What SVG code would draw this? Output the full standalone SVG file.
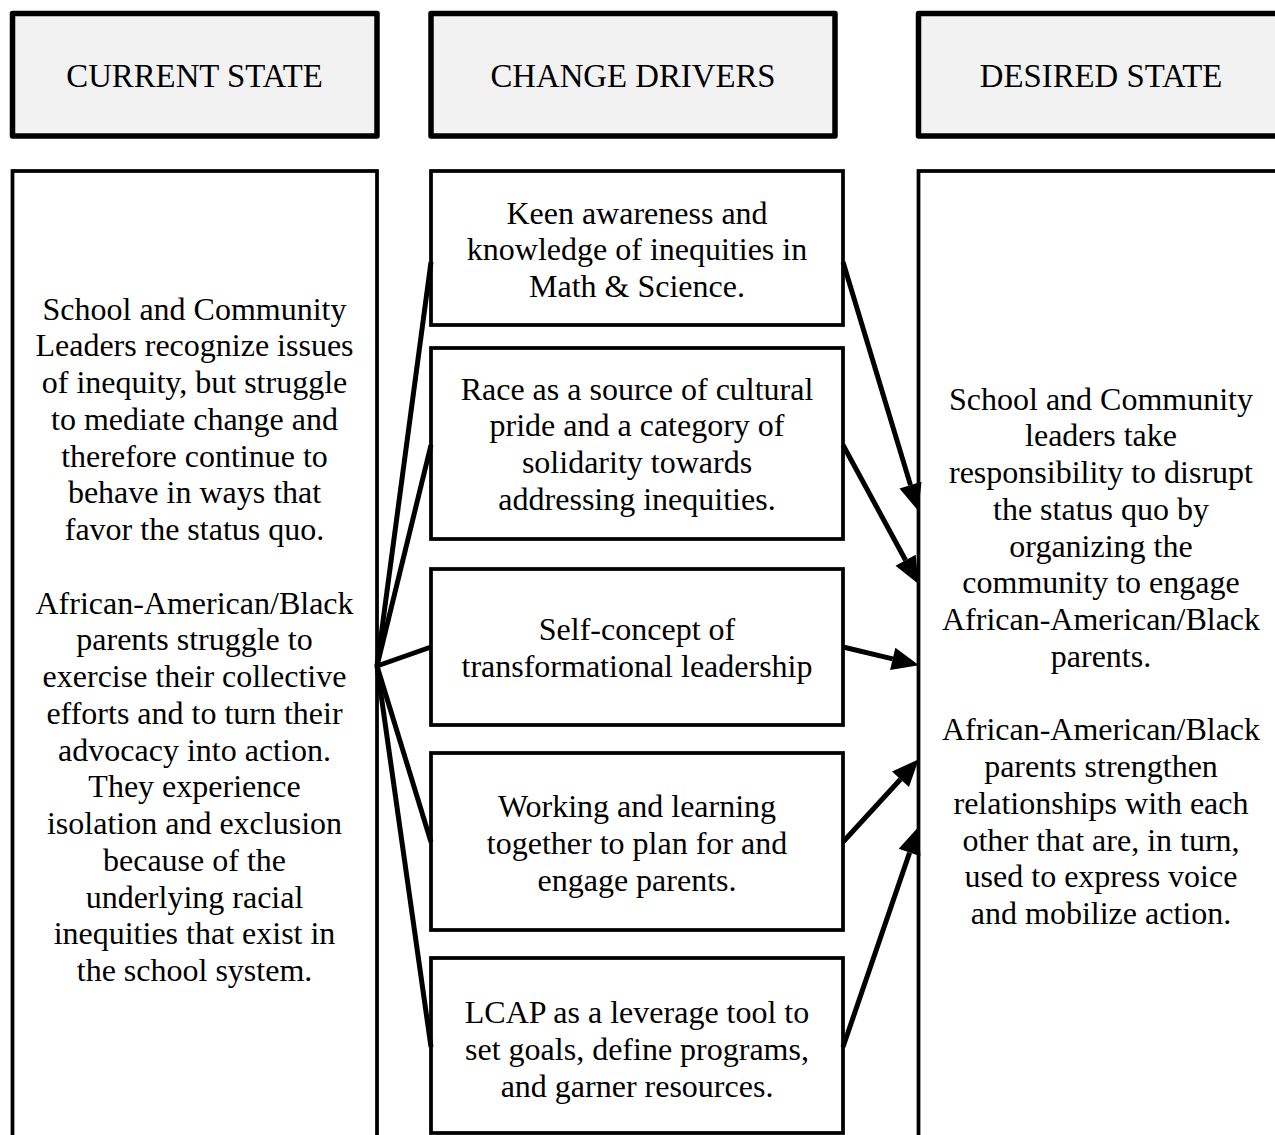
<svg xmlns="http://www.w3.org/2000/svg" width="1275" height="1135" viewBox="0 0 1275 1135">
<style>
  .hdr { fill: #f2f2f2; stroke: #000; stroke-width: 5.5; stroke-linejoin: round; }
  .box { fill: #fff; stroke: #000; stroke-width: 3.75; }
  .t { font-family: 'Liberation Serif', 'Times New Roman', serif; font-size: 32px; fill: #000; text-anchor: middle; }
  .h { font-size: 32.8px; }
  .c { stroke: #000; stroke-width: 5; fill: none; }
</style>
<defs>
  <marker id="ah" markerUnits="userSpaceOnUse" markerWidth="28" markerHeight="24" refX="0" refY="11.5" orient="auto" overflow="visible">
    <path d="M0,0 L27,11.5 L0,23 z" fill="#000"/>
  </marker>
</defs>
<rect width="1275" height="1135" fill="#fff"/>

<g id="hdr-current">
  <rect class="hdr" x="12.5" y="13.5" width="364.5" height="122.5"/>
  <text class="t h" x="194.5" y="87">CURRENT STATE</text>
</g>
<g id="hdr-drivers">
  <rect class="hdr" x="431" y="13.5" width="404" height="122.5"/>
  <text class="t h" x="633" y="87">CHANGE DRIVERS</text>
</g>
<g id="hdr-desired">
  <rect class="hdr" x="918.5" y="13.5" width="366" height="122.5"/>
  <text class="t h" x="1101" y="87">DESIRED STATE</text>
</g>

<g id="current">
  <rect class="box" x="12.5" y="171" width="364.5" height="980"/>
  <text class="t" x="194.5" y="319.5">School and Community</text>
  <text class="t" x="194.5" y="356.25">Leaders recognize issues</text>
  <text class="t" x="194.5" y="393">of inequity, but struggle</text>
  <text class="t" x="194.5" y="429.75">to mediate change and</text>
  <text class="t" x="194.5" y="466.5">therefore continue to</text>
  <text class="t" x="194.5" y="503.25">behave in ways that</text>
  <text class="t" x="194.5" y="540">favor the status quo.</text>
  <text class="t" x="194.5" y="613.5">African-American/Black</text>
  <text class="t" x="194.5" y="650.25">parents struggle to</text>
  <text class="t" x="194.5" y="687">exercise their collective</text>
  <text class="t" x="194.5" y="723.75">efforts and to turn their</text>
  <text class="t" x="194.5" y="760.5">advocacy into action.</text>
  <text class="t" x="194.5" y="797.25">They experience</text>
  <text class="t" x="194.5" y="834">isolation and exclusion</text>
  <text class="t" x="194.5" y="870.75">because of the</text>
  <text class="t" x="194.5" y="907.5">underlying racial</text>
  <text class="t" x="194.5" y="944.25">inequities that exist in</text>
  <text class="t" x="194.5" y="981">the school system.</text>
</g>

<g id="driver1">
  <rect class="box" x="431" y="171" width="412" height="154"/>
  <text class="t" x="637" y="223.5">Keen awareness and</text>
  <text class="t" x="637" y="260.25">knowledge of inequities in</text>
  <text class="t" x="637" y="297">Math &amp; Science.</text>
</g>
<g id="driver2">
  <rect class="box" x="431" y="348" width="412" height="191"/>
  <text class="t" x="637" y="399.5">Race as a source of cultural</text>
  <text class="t" x="637" y="436.25">pride and a category of</text>
  <text class="t" x="637" y="473">solidarity towards</text>
  <text class="t" x="637" y="509.75">addressing inequities.</text>
</g>
<g id="driver3">
  <rect class="box" x="431" y="569" width="412" height="156"/>
  <text class="t" x="637" y="640">Self-concept of</text>
  <text class="t" x="637" y="676.75">transformational leadership</text>
</g>
<g id="driver4">
  <rect class="box" x="431" y="753" width="412" height="177"/>
  <text class="t" x="637" y="817">Working and learning</text>
  <text class="t" x="637" y="853.75">together to plan for and</text>
  <text class="t" x="637" y="890.5">engage parents.</text>
</g>
<g id="driver5">
  <rect class="box" x="431" y="958" width="412" height="175"/>
  <text class="t" x="637" y="1023">LCAP as a leverage tool to</text>
  <text class="t" x="637" y="1059.75">set goals, define programs,</text>
  <text class="t" x="637" y="1096.5">and garner resources.</text>
</g>

<g id="desired">
  <rect class="box" x="918.5" y="171" width="366" height="980"/>
  <text class="t" x="1101" y="409.5">School and Community</text>
  <text class="t" x="1101" y="446.25">leaders take</text>
  <text class="t" x="1101" y="483">responsibility to disrupt</text>
  <text class="t" x="1101" y="519.75">the status quo by</text>
  <text class="t" x="1101" y="556.5">organizing the</text>
  <text class="t" x="1101" y="593.25">community to engage</text>
  <text class="t" x="1101" y="630">African-American/Black</text>
  <text class="t" x="1101" y="666.75">parents.</text>
  <text class="t" x="1101" y="740.25">African-American/Black</text>
  <text class="t" x="1101" y="777">parents strengthen</text>
  <text class="t" x="1101" y="813.75">relationships with each</text>
  <text class="t" x="1101" y="850.5">other that are, in turn,</text>
  <text class="t" x="1101" y="887.25">used to express voice</text>
  <text class="t" x="1101" y="924">and mobilize action.</text>
</g>

<g id="connectors">
  <line class="c" x1="377" y1="666" x2="431" y2="262"/>
  <line class="c" x1="377" y1="666" x2="431" y2="445"/>
  <line class="c" x1="377" y1="666" x2="431" y2="647"/>
  <line class="c" x1="377" y1="666" x2="431" y2="842"/>
  <line class="c" x1="377" y1="666" x2="431" y2="1047"/>
  <line class="c" x1="843" y1="262" x2="910.5" y2="485.1" marker-end="url(#ah)"/>
  <line class="c" x1="843" y1="445" x2="905.6" y2="560.2" marker-end="url(#ah)"/>
  <line class="c" x1="843" y1="647" x2="892.7" y2="658.9" marker-end="url(#ah)"/>
  <line class="c" x1="843" y1="842" x2="900.5" y2="779.2" marker-end="url(#ah)"/>
  <line class="c" x1="843" y1="1047" x2="909.6" y2="852.6" marker-end="url(#ah)"/>
</g>
</svg>
